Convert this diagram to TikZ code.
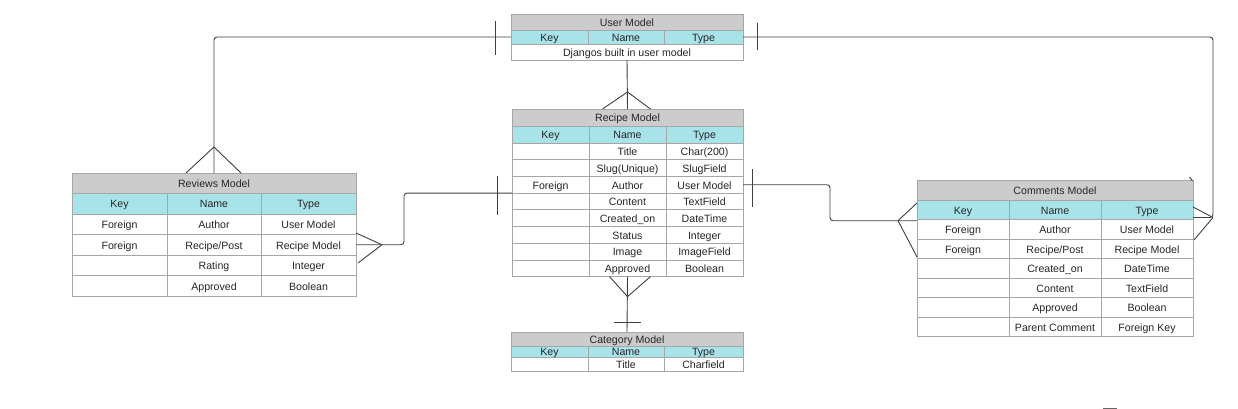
\documentclass[tikz,border=0pt]{standalone}
\usepackage{fontspec}
\setmainfont{Liberation Sans}
\usetikzlibrary{calc}
\definecolor{hdr}{HTML}{A9E3EA}
\definecolor{ttl}{HTML}{CCCCCC}
\definecolor{bdr}{HTML}{A6A6A6}
\definecolor{lnk}{HTML}{404040}
\definecolor{txt}{HTML}{262626}
\newcommand\mkcell[7]{\node[cellbox,#6,minimum width={(#4-#2)*1pt},minimum height={(#5-#3)*1pt}] (#1) at ({(#2+#4)/2},{(#3+#5)/2}) {#7};}
\newcommand\mkrow[7]{%
  \mkcell{#1-1}{\xA}{#2}{\xB}{#3}{#4}{#5}%
  \mkcell{#1-2}{\xB}{#2}{\xC}{#3}{#4}{#6}%
  \mkcell{#1-3}{\xC}{#2}{\xD}{#3}{#4}{#7}}
\tikzset{
  cellbox/.style={draw=bdr, line width=0.8pt, inner sep=0pt, outer sep=0pt, text=txt,
    text height=8.5pt, text depth=0pt,
    font=\fontsize{10.6}{12}\selectfont},
  titlecell/.style={fill=ttl},
  headcell/.style={fill=hdr},
  datacell/.style={fill=white},
  link/.style={draw=lnk, line width=0.9pt, rounded corners=3pt},
  notch/.style={draw=lnk, line width=0.9pt},
}
\begin{document}
\begin{tikzpicture}[x=1pt,y=-1pt]
\useasboundingbox[fill=white] (0,0) rectangle (1238,409);

% ---------- User Model ----------
\def\xA{511}\def\xB{588}\def\xC{664}\def\xD{743}
\mkcell{u-t}{\xA}{14}{\xD}{30}{titlecell}{User Model}
\mkrow{u-h}{30}{44}{headcell}{Key}{Name}{Type}
\mkcell{u-d}{\xA}{44}{\xD}{60}{datacell}{Djangos built in user model}

% ---------- Recipe Model ----------
\def\xA{512}\def\xB{589}\def\xC{666}\def\xD{743}
\mkcell{r-t}{\xA}{109}{\xD}{126}{titlecell}{Recipe Model}
\mkrow{r-h}{126}{143}{headcell}{Key}{Name}{Type}
\mkrow{r-a}{143}{159.7}{datacell}{}{Title}{Char(200)}
\mkrow{r-b}{159.7}{176.4}{datacell}{}{Slug(Unique)}{SlugField}
\mkrow{r-c}{176.4}{193.1}{datacell}{Foreign}{Author}{User Model}
\mkrow{r-d}{193.1}{209.8}{datacell}{}{Content}{TextField}
\mkrow{r-e}{209.8}{226.5}{datacell}{}{Created\_on}{DateTime}
\mkrow{r-f}{226.5}{243.2}{datacell}{}{Status}{Integer}
\mkrow{r-g}{243.2}{259.9}{datacell}{}{Image}{ImageField}
\mkrow{r-k}{259.9}{276.6}{datacell}{}{Approved}{Boolean}

% ---------- Category Model ----------
\def\xA{511}\def\xB{588}\def\xC{664}\def\xD{743}
\mkcell{c-t}{\xA}{332}{\xD}{346}{titlecell}{Category Model}
\mkrow{c-h}{346}{357}{headcell}{Key}{Name}{Type}
\mkrow{c-a}{357}{371}{datacell}{}{Title}{Charfield}

% ---------- Reviews Model ----------
\def\xA{72}\def\xB{167}\def\xC{261}\def\xD{356}
\mkcell{v-t}{\xA}{173}{\xD}{193}{titlecell}{Reviews Model}
\mkrow{v-h}{193}{214}{headcell}{Key}{Name}{Type}
\mkrow{v-a}{214}{234.5}{datacell}{Foreign}{Author}{User Model}
\mkrow{v-b}{234.5}{255}{datacell}{Foreign}{Recipe/Post}{Recipe Model}
\mkrow{v-c}{255}{275.5}{datacell}{}{Rating}{Integer}
\mkrow{v-d}{275.5}{296}{datacell}{}{Approved}{Boolean}

% ---------- Comments Model ----------
\def\xA{917}\def\xB{1009}\def\xC{1101}\def\xD{1193}
\mkcell{m-t}{\xA}{180}{\xD}{200}{titlecell}{Comments Model}
\mkrow{m-h}{200}{219.5}{headcell}{Key}{Name}{Type}
\mkrow{m-a}{219.5}{239}{datacell}{Foreign}{Author}{User Model}
\mkrow{m-b}{239}{258.5}{datacell}{Foreign}{Recipe/Post}{Recipe Model}
\mkrow{m-c}{258.5}{278}{datacell}{}{Created\_on}{DateTime}
\mkrow{m-d}{278}{297.5}{datacell}{}{Content}{TextField}
\mkrow{m-e}{297.5}{317}{datacell}{}{Approved}{Boolean}
\mkrow{m-f}{317}{336.5}{datacell}{}{Parent Comment}{Foreign Key}

% ---------- connector points ----------
\coordinate (vTop) at (v-t.north);
\coordinate (vTopA) at ($(vTop)+(0,-26)$);
\coordinate (mR) at (1193,217.5);
\coordinate (mRA) at (1213,217.5);
\coordinate (rTop) at (r-t.north);
\coordinate (rTopA) at ($(rTop)+(0,-17)$);
\coordinate (rBot) at (r-k-2.south);
\coordinate (rBotA) at ($(rBot)+(0,20)$);
\coordinate (vR) at (v-b-3.east);
\coordinate (vRA) at ($(vR)+(26,0)$);
\coordinate (rL) at (r-c-1.south west);
\coordinate (mL) at (917,220.7);
\coordinate (mLA) at (898,220.7);

% User -> Reviews
\draw[link] (u-h-1.west) -| (vTop);
\draw[notch] (495,21) -- (495,55);
\draw[notch] (vTopA) -- ($(vTop)+(-28,0)$);
\draw[notch] (vTopA) -- ($(vTop)+(27,0)$);

% User -> Comments
\draw[link] (u-h-3.east) -| (mRA) -- (mR);
\draw[notch] (757,23) -- (757,50);
\draw[notch] (mRA) -- (1193,207);
\draw[notch] (mRA) -- (1194,240);
\draw[notch] (1189.5,177) -- (1192.5,181);

% User -> Recipe
\draw[link] (u-d.south) -- (rTop);
\draw[notch] (rTopA) -- ($(rTop)+(-25,0)$);
\draw[notch] (rTopA) -- ($(rTop)+(23,0)$);

% Recipe -> Category
\draw[link] (rBot) -- (c-t.north);
\draw[notch] (rBotA) -- ($(rBot)+(-18,0)$);
\draw[notch] (rBotA) -- ($(rBot)+(23,0)$);
\draw[notch] (614,322) -- (641,322);

% Reviews -> Recipe
\draw[link] (vR) -- (vRA) -- (404,244.7) -- (404,193.1) -- (rL);
\draw[notch] (vRA) -- (356,233);
\draw[notch] (vRA) -- (358,263);
\draw[notch] (497,176) -- (497,215);

% Recipe -> Comments
\draw[link] (r-c-3.east) -- (830,184.7) -- (830,220.7) -- (mL);
\draw[notch] (mLA) -- (917,203);
\draw[notch] (mLA) -- (917,257);
\draw[notch] (752,169) -- (752,207);

% small stray stroke at the bottom edge
\draw[draw=lnk!80, line width=1pt] (1103,408) -- (1117,408);
\end{tikzpicture}
\end{document}
